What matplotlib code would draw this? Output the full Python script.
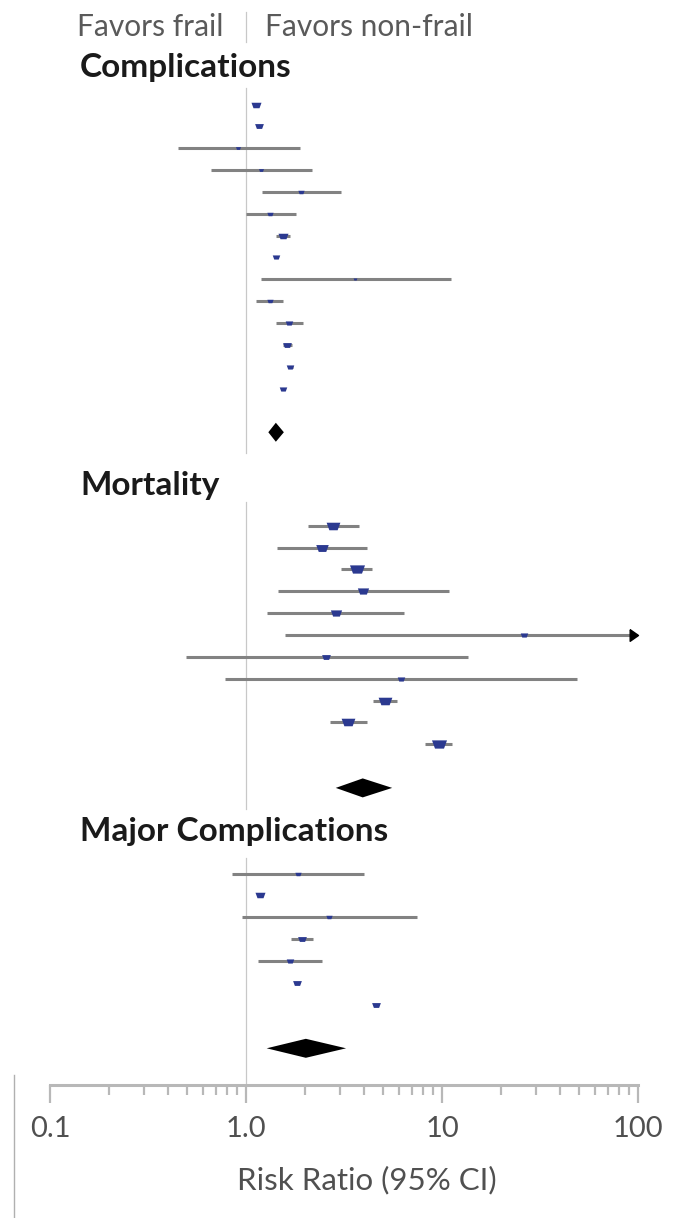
import numpy as np
import matplotlib.pyplot as plt
from matplotlib import transforms
from matplotlib.lines import Line2D
from matplotlib.path import Path
from matplotlib.ticker import NullFormatter

plt.rcParams['font.family'] = ['Lato', 'DejaVu Sans']

# --- data (risk ratios, 95% CI, marker weight) ---
comp_rr = [1.12, 1.165, 0.91, 1.19, 1.91, 1.33, 1.54, 1.43, 3.6, 1.32, 1.66, 1.62, 1.68, 1.54]
comp_lo = [1.09, 1.14, 0.45, 0.66, 1.21, 1.0, 1.43, 1.41, 1.19, 1.125, 1.42, 1.54, 1.63, 1.51]
comp_hi = [1.15, 1.19, 1.89, 2.16, 3.06, 1.79, 1.68, 1.46, 11.1, 1.55, 1.95, 1.71, 1.73, 1.57]
comp_w = [8, 7, 4, 4, 5, 5, 8, 6, 3, 5, 6, 7, 6, 6]
comp_pool = [1.42, 1.30, 1.56]

mort_rr = [2.78, 2.43, 3.67, 3.96, 2.87, 26.2, 2.56, 6.16, 5.12, 3.31, 9.61]
mort_lo = [2.07, 1.44, 3.05, 1.45, 1.275, 1.58, 0.494, 0.778, 4.46, 2.68, 8.19]
mort_hi = [3.78, 4.15, 4.39, 10.8, 6.4, 150, 13.5, 48.8, 5.87, 4.13, 11.3]
mort_w = [11, 10, 12, 9, 9, 6, 7, 6, 11, 11, 12]
mort_pool = [3.94, 2.87, 5.57]

maj_rr = [1.835, 1.18, 2.66, 1.93, 1.68, 1.82, 4.6]
maj_lo = [0.845, 1.15, 0.954, 1.70, 1.15, 1.78, 4.5]
maj_hi = [3.99, 1.21, 7.49, 2.2, 2.45, 1.86, 4.7]
maj_w = [5, 8, 5, 7, 6, 7, 7]
maj_pool = [2.02, 1.275, 3.24]

titles = ['Complications', 'Mortality', 'Major Complications']
xticks = [0.1, 1, 10, 100]
xticklabels = ['0.1', '1.0', '10', '100']

# layout (pixel rows from top of figure)
W, H = 679, 1218
title_y = [68, 485, 832]
first_row = [104.5, 525.7, 873.5]
line_top = [88, 502, 858]
step = 21.85
axis_y = 1085

fig = plt.figure(figsize=(W / 100, H / 100), dpi=100)
ax = fig.add_axes([50 / W, (H - axis_y) / H, 588 / W, axis_y / H])
ax.set_xscale('log')
ax.set_xlim(0.1, 100)
ax.set_ylim(axis_y, 0)

blue = '#2b3990'
grey_ci = '#828282'
refc = '#c8c8c8'
box = Path([(-1, 0.55), (1, 0.55), (0.6, -0.55), (-0.6, -0.55), (-1, 0.55)])

sections = [
    (comp_rr, comp_lo, comp_hi, comp_w, comp_pool),
    (mort_rr, mort_lo, mort_hi, mort_w, mort_pool),
    (maj_rr, maj_lo, maj_hi, maj_w, maj_pool),
]
tr = transforms.blended_transform_factory(ax.transAxes, ax.transData)

for k, (rr, lo, hi, w, pool) in enumerate(sections):
    ys = first_row[k] + step * np.arange(len(rr))
    dy = ys[-1] + 2 * step
    bottom = axis_y if k == 2 else dy + 21
    ax.plot([1, 1], [line_top[k], bottom], color=refc, lw=0.9, zorder=1)
    for r, l, h, s, y in zip(rr, lo, hi, w, ys):
        if h > 100:
            ax.plot([l, 100], [y, y], color=grey_ci, lw=2.2, solid_capstyle='butt', zorder=2)
            ax.plot([100], [y], marker=Path([(-1, 0.7), (0, 0), (-1, -0.7), (-1, 0.7)]),
                    ms=12, color='black', clip_on=False, zorder=3)
        else:
            ax.plot([l, h], [y, y], color=grey_ci, lw=2.2, solid_capstyle='butt', zorder=2)
        ax.plot([r], [y], marker=box, ms=s * 0.9, color=blue, mec='none', zorder=4)
    p, pl, ph = pool
    ax.fill([pl, p, ph, p], [dy, dy - 9.5, dy, dy + 9.5], color='black', lw=0, zorder=4)
    ax.text(30 / 588, title_y[k], titles[k], transform=tr, ha='left', va='center',
            fontsize=24, fontweight='bold', color='#1a1a1a')

# header
ax.plot([1, 1], [12, 42], color=refc, lw=0.9)
ax.annotate('Favors frail', xy=(1, 27), xytext=(-16, 0), textcoords='offset points',
            ha='right', va='center', fontsize=21.5, color='#5a5a5a')
ax.annotate('Favors non-frail', xy=(1, 27), xytext=(14, 0), textcoords='offset points',
            ha='left', va='center', fontsize=21.5, color='#5a5a5a')

# axis styling
for s in ['top', 'left', 'right']:
    ax.spines[s].set_visible(False)
ax.spines['bottom'].set_color('#b8b8b8')
ax.spines['bottom'].set_linewidth(2.2)
ax.set_yticks([])
ax.set_xticks(xticks)
ax.set_xticklabels(xticklabels)
ax.xaxis.set_minor_formatter(NullFormatter())
ax.tick_params(axis='x', which='major', length=13, width=1.6, color='#b8b8b8',
               labelsize=21, labelcolor='#505050', pad=9)
ax.tick_params(axis='x', which='minor', length=7, width=1.6, color='#b8b8b8')
fig.text(367 / W, 1 - 1180 / H, 'Risk Ratio (95% CI)', ha='center', va='center',
         fontsize=22.5, color='#505050')

fig.add_artist(Line2D([14 / W, 14 / W], [0, 1 - 1075 / H], color='#b0b0b0', lw=1))

fig.savefig('out.png', dpi=100)
